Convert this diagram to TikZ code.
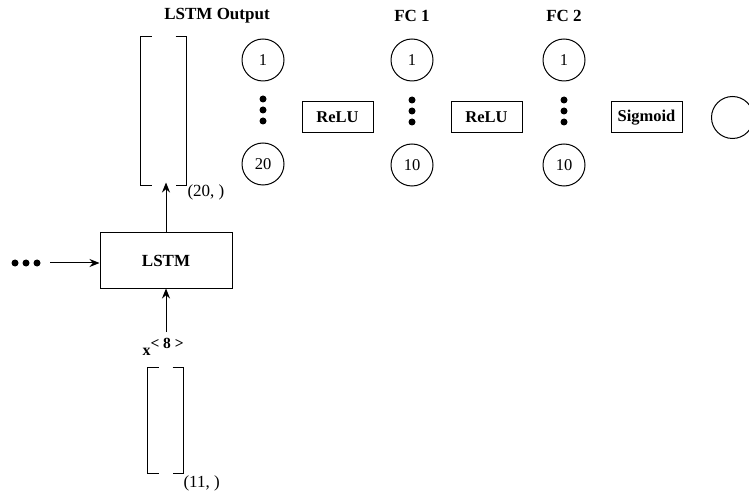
\documentclass[tikz,border=0pt]{standalone}
\usepackage{fontspec}
\setmainfont{Liberation Serif}
\usetikzlibrary{arrows.meta}
\begin{document}
\begin{tikzpicture}[x=1pt,y=-1pt,
  line width=1pt,
  neuron/.style={draw,circle,minimum size=42pt,inner sep=0pt,font=\fontsize{16.5}{19}\selectfont},
  actbox/.style={draw,rectangle,minimum width=71pt,minimum height=31pt,inner sep=0pt,font=\bfseries\fontsize{16.5}{19}\selectfont},
  title/.style={font=\bfseries\fontsize{17}{20}\selectfont},
  dimlbl/.style={font=\fontsize{17}{20}\selectfont,inner sep=0pt},
  vec/.style={rectangle,inner sep=0pt},
  dot/.style={circle,fill,inner sep=0pt,minimum size=7pt},
  arr/.style={-{Stealth[length=10pt,width=8pt]}}
]
\useasboundingbox (0,0) rectangle (749,494);
\clip (0,0) rectangle (749,494);
% titles
\node[title] (t0) at (217,16) {LSTM Output};
\node[title] (t1) at (412,16) {FC 1};
\node[title] (t2) at (564,16) {FC 2};
% output vector bracket
\node[vec,minimum width=45pt,minimum height=148pt] (outvec) at (163.5,111) {};
\draw (outvec.north west) ++(11,0) -- (outvec.north west) -- (outvec.south west) -- ++(11,0);
\draw (outvec.north east) ++(-11,0) -- (outvec.north east) -- (outvec.south east) -- ++(-11,0);
\node[dimlbl,anchor=west] (d20) at (187,192) {(20, )};
% LSTM output neurons
\node[neuron] (a1) at (263,60) {1};
\node[dot] (ad1) at (263,99) {};
\node[dot] (ad2) at (263,110) {};
\node[dot] (ad3) at (263,121) {};
\node[neuron] (a20) at (263,164) {20};
% relu 1
\node[actbox] (r1) at (337.5,117.5) {ReLU};
% FC1
\node[neuron] (b1) at (412,60) {1};
\node[dot] (bd1) at (412,100) {};
\node[dot] (bd2) at (412,111) {};
\node[dot] (bd3) at (412,122) {};
\node[neuron] (b10) at (412,165) {10};
% relu 2
\node[actbox] (r2) at (486.5,117.5) {ReLU};
% FC2
\node[neuron] (c1) at (564,60) {1};
\node[dot] (cd1) at (564,100) {};
\node[dot] (cd2) at (564,111) {};
\node[dot] (cd3) at (564,122) {};
\node[neuron] (c10) at (564,165) {10};
% sigmoid
\node[actbox] (sg) at (646.5,117.5) {Sigmoid};
\node[neuron] (out) at (732.5,117.5) {};
% LSTM box
\node[draw,rectangle,minimum width=132pt,minimum height=55pt,inner sep=0pt,font=\bfseries\fontsize{17}{20}\selectfont] (lstm) at (166,260.5) {LSTM};
\draw[arr] (lstm.north) -- ([yshift=3pt]lstm.north |- outvec.south);
% left dots
\node[dot] (l1) at (15,263) {};
\node[dot] (l2) at (26,263) {};
\node[dot] (l3) at (37,263) {};
\coordinate (lin) at (50,263);
\draw[arr] (lin) -- (lin -| lstm.west);
% input
\node[font=\bfseries\fontsize{16}{18}\selectfont,inner sep=0pt,anchor=base west] (xin) at (142,355) {x\raisebox{7pt}{\fontsize{15.5}{17}\selectfont< 8 >}};
\coordinate (xtop) at (166,332);
\draw[arr] (xtop) -- (xtop |- lstm.south);
% input vector bracket
\node[vec,minimum width=35pt,minimum height=105pt] (invec) at (165.5,420.5) {};
\draw (invec.north west) ++(11,0) -- (invec.north west) -- (invec.south west) -- ++(11,0);
\draw (invec.north east) ++(-11,0) -- (invec.north east) -- (invec.south east) -- ++(-11,0);
\node[dimlbl,anchor=west] (d11) at (183,483) {(11, )};
\end{tikzpicture}
\end{document}
